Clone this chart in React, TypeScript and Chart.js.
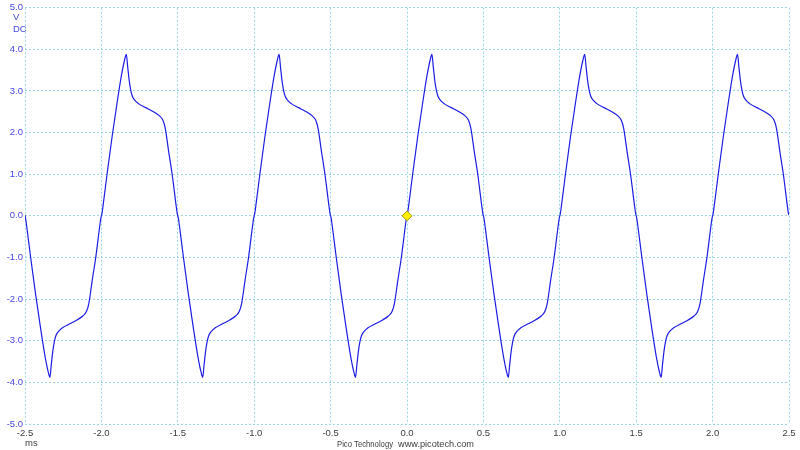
import React, { useEffect, useRef } from "react";
import { Chart, registerables } from "chart.js";

Chart.register(...registerables);

// Axis ticks
const xTickValuesMs = [-2.5, -2.0, -1.5, -1.0, -0.5, 0.0, 0.5, 1.0, 1.5, 2.0, 2.5];
const yTickValuesV = [-5, -4, -3, -2, -1, 0, 1, 2, 3, 4, 5];

// Start times (ms) of each cycle (rising zero crossing) – period 1 ms
const cycleStartsMs = [-3, -2, -1, 0, 1, 2];

// One period of the waveform: phase (ms after rising zero crossing) and volts
const phaseMs = [
  0.003, 0.010, 0.037, 0.070, 0.100, 0.130, 0.152, 0.163, 0.172, 0.181, 0.191, 0.202,
  0.218, 0.245, 0.290, 0.340, 0.380, 0.402, 0.418, 0.440, 0.463, 0.490, 0.497,
  0.503, 0.510, 0.537, 0.570, 0.600, 0.630, 0.652, 0.663, 0.672, 0.681, 0.691, 0.702,
  0.718, 0.745, 0.790, 0.840, 0.880, 0.902, 0.918, 0.940, 0.963, 0.990, 0.997,
];
const voltsV = [
  0.04, 0.22, 1.0, 1.9, 2.65, 3.35, 3.75, 3.88, 3.58, 3.28, 3.04, 2.88,
  2.78, 2.69, 2.6, 2.5, 2.4, 2.3, 2.1, 1.55, 1.0, 0.22, 0.04,
  -0.04, -0.22, -1.0, -1.9, -2.65, -3.35, -3.75, -3.88, -3.58, -3.28, -3.04, -2.88,
  -2.78, -2.69, -2.6, -2.5, -2.4, -2.3, -2.1, -1.55, -1.0, -0.22, -0.04,
];

// Window edges and trigger marker
const windowMs = [-2.5, 2.5];
const edgeVoltsV = [0.02, 0.02];
const triggerMs = [0.0];
const triggerV = [0.0];

export default function App() {
  const ref = useRef<HTMLCanvasElement | null>(null);

  useEffect(() => {
    if (!ref.current) return;
    const pts: { x: number; y: number }[] = [];
    pts.push({ x: windowMs[0], y: edgeVoltsV[0] });
    cycleStartsMs.forEach((c) => {
      phaseMs.forEach((p, i) => {
        const t = +(c + p).toFixed(4);
        if (t > windowMs[0] && t < windowMs[1]) pts.push({ x: t, y: voltsV[i] });
      });
    });
    pts.push({ x: windowMs[1], y: edgeVoltsV[1] });

    const font = { family: "'Liberation Sans', Arial, sans-serif", size: 9.5 };

    const textPlugin = {
      id: "picoText",
      afterDraw(chart: any) {
        const ctx = chart.ctx;
        ctx.save();
        ctx.font = "9.5px 'Liberation Sans', Arial, sans-serif";
        ctx.textBaseline = "middle";
        ctx.textAlign = "left";
        ctx.fillStyle = "#4646e0";
        ctx.fillText("V", 13, 17);
        ctx.fillText("DC", 13, 29);
        ctx.fillStyle = "#3c3c3c";
        ctx.fillText("ms", 25, 443);
        ctx.fillText("Pico Technology", 337, 444, 56);
        ctx.fillText("www.picotech.com", 398, 444, 76);
        ctx.restore();
      },
    };

    const gridColor = "#9ad6e6";

    const chart = new Chart(ref.current, {
      type: "line",
      data: {
        datasets: [
          {
            data: triggerMs.map((t, i) => ({ x: t, y: triggerV[i] })),
            showLine: false,
            pointStyle: "rectRot",
            pointRadius: 5,
            pointBackgroundColor: "#ffee00",
            pointBorderColor: "#a89a10",
            pointBorderWidth: 1,
            order: 0,
          },
          {
            data: pts,
            borderColor: "#1c1ce4",
            borderWidth: 1.2,
            pointRadius: 0,
            cubicInterpolationMode: "monotone",
            fill: false,
            order: 1,
          },
        ],
      },
      options: {
        responsive: false,
        animation: false,
        events: [],
        layout: { padding: { left: 0, top: 6, right: 11, bottom: 0 } },
        plugins: { legend: { display: false }, tooltip: { enabled: false } },
        scales: {
          x: {
            type: "linear",
            min: -2.5,
            max: 2.5,
            afterFit: (s: any) => {
              s.height = 26;
            },
            afterBuildTicks: (s: any) => {
              s.ticks = xTickValuesMs.map((v) => ({ value: v }));
            },
            border: { display: false, dash: [2, 2] },
            grid: { color: gridColor, lineWidth: 1, drawTicks: false },
            ticks: {
              padding: 4,
              color: "#3c3c3c",
              font,
              maxRotation: 0,
              callback: (v: any) => Number(v).toFixed(1),
            },
          },
          y: {
            type: "linear",
            min: -5,
            max: 5,
            afterFit: (s: any) => {
              s.width = 25;
            },
            afterBuildTicks: (s: any) => {
              s.ticks = yTickValuesV.map((v) => ({ value: v }));
            },
            border: { display: false, dash: [2, 2] },
            grid: { color: gridColor, lineWidth: 1, drawTicks: false },
            ticks: {
              padding: 2,
              color: "#4646e0",
              font,
              callback: (v: any) => Number(v).toFixed(1),
            },
          },
        },
      },
      plugins: [textPlugin],
    } as any);
    return () => chart.destroy();
  }, []);

  return (
    <div style={{ position: "fixed", left: 0, top: 0, width: 800, height: 450, background: "#fff" }}>
      <canvas ref={ref} width={800} height={450} />
    </div>
  );
}
